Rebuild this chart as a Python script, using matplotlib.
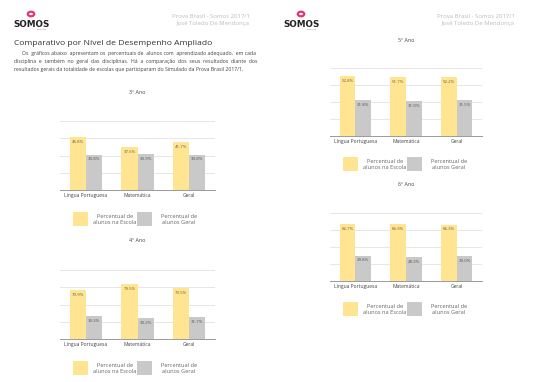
import matplotlib
matplotlib.use("Agg")
import matplotlib.pyplot as plt
from matplotlib.patches import Rectangle, Circle
import numpy as np

plt.rcParams['font.family'] = ['Open Sans', 'DejaVu Sans']

# ---------------- data ----------------
categories = ["Língua Portuguesa", "Matemática", "Geral"]
anos = ["3º Ano", "4º Ano", "5º Ano", "6º Ano"]
escola_3 = [45.8, 37.5, 41.7]
geral_3 = [30.8, 30.9, 30.8]
escola_4 = [70.9, 79.5, 73.5]
geral_4 = [33.3, 30.2, 31.7]
escola_5 = [52.8, 51.7, 52.2]
geral_5 = [31.8, 31.0, 31.5]
escola_6 = [66.7, 66.9, 66.3]
geral_6 = [29.8, 28.3, 29.0]
legend_labels = ["Percentual de\nalunos na Escola", "Percentual de\nalunos Geral"]

title = "Comparativo por Nível de Desempenho Ampliado"
paragraph = [
    "Os gráficos abaixo apresentam os percentuais de alunos com aprendizado adequado, em cada",
    "disciplina e também no geral das disciplinas. Há a comparação dos seus resultados diante dos",
    "resultados gerais da totalidade de escolas que participaram do Simulado da Prova Brasil 2017/1.",
]
header1 = "Prova Brasil - Somos 2017/1"
header2 = "José Toledo De Mendonça"

# ---------------- style ----------------
W, H = 540, 382
YELLOW = "#FFE592"
GRAY = "#C9C9C9"
PINK = "#E8336F"
TXT = "#444444"

fig = plt.figure(figsize=(W / 100, H / 100), dpi=100)
fig.patch.set_facecolor("white")


def fx(x):
    return x / W


def fy(y):
    return 1 - y / H


def text(x, y, s, **kw):
    kw.setdefault("va", "center")
    return fig.text(fx(x), fy(y), s, **kw)


def widen(s, every):
    # approximate justification by doubling some of the word gaps
    words = s.split(" ")
    out = words[0]
    for i, w in enumerate(words[1:]):
        out += ("  " if i % every == 0 else " ") + w
    return out


def logo(x0):
    fig.patches.append(Circle((fx(x0 + 16), fy(14)), 3.2 / W, transform=fig.transFigure,
                              facecolor="none", edgecolor=PINK, lw=1.6))
    text(x0 + 17, 24.5, "SOMOS", fontsize=6.3, fontweight="bold", color="#222222",
         ha="center", family="DejaVu Sans")
    text(x0 + 27, 29.5, "educação", fontsize=1.6, color="#777777", ha="center")


def header(xr):
    text(xr, 16, header1, fontsize=4.3, color="#BBBBBB", ha="right")
    text(xr - 1, 24, header2, fontsize=4.3, color="#BBBBBB", ha="right")


def chart(left, right, top, bottom, escola, geral, ymax, step, ano, ano_y, leg_y):
    ax = fig.add_axes([fx(left), fy(bottom), fx(right - left), (bottom - top) / H])
    x = np.arange(len(categories))
    w = 0.31
    b1 = ax.bar(x - w / 2, escola, w, color=YELLOW, zorder=3)
    b2 = ax.bar(x + w / 2, geral, w, color=GRAY, zorder=3)
    for bars, vals, c in ((b1, escola, "#6b5f3a"), (b2, geral, "#555555")):
        for r, v in zip(bars, vals):
            ax.annotate(f"{v:.1f}%", (r.get_x() + r.get_width() / 2, v),
                        xytext=(0, -3.4), textcoords="offset points",
                        ha="center", va="center", fontsize=3.2, color=c, zorder=4)
    ax.set_xlim(-0.5, 2.5)
    ax.set_ylim(0, ymax)
    ax.set_yticks(np.arange(step, ymax + 0.1, step))
    ax.yaxis.grid(True, color="#E2E2E2", lw=0.6, zorder=0)
    ax.set_axisbelow(True)
    ax.tick_params(axis="y", left=False, labelleft=False)
    ax.set_xticks(x)
    ax.set_xticklabels(categories, fontsize=3.6, color=TXT)
    ax.tick_params(axis="x", length=0, pad=2.2)
    for s in ("top", "left", "right"):
        ax.spines[s].set_visible(False)
    ax.spines["bottom"].set_color("#9a9a9a")
    ax.spines["bottom"].set_linewidth(0.7)
    ax.patch.set_alpha(0)

    cx = (left + right) / 2
    text(cx, ano_y, ano, fontsize=3.9, color=TXT, ha="center")

    # legend
    sq = 14
    lx1 = left + 13
    lx2 = left + 77
    for lx, col, lab in ((lx1, YELLOW, legend_labels[0]), (lx2, GRAY, legend_labels[1])):
        fig.patches.append(Rectangle((fx(lx), fy(leg_y + sq)), (sq + 1) / W, sq / H,
                                     transform=fig.transFigure, facecolor=col, edgecolor="none"))
        text(lx + 42, leg_y + sq / 2 + 0.5, lab, fontsize=4.1, color="#666666",
             ha="center", linespacing=1.35)
    return ax


# ---------------- left page ----------------
logo(15)
header(250)
text(14, 43.5, title, fontsize=6.1, color="#333333", ha="left")
text(22, 54, widen(paragraph[0], 2), fontsize=3.72, color="#444444", ha="left")
text(14, 62, widen(paragraph[1], 1), fontsize=3.72, color="#444444", ha="left")
text(14, 70, paragraph[2], fontsize=3.68, color="#444444", ha="left")

chart(60, 215, 121, 190, escola_3, geral_3, 60, 15, anos[0], 92, 212)
chart(60, 215, 270, 339, escola_4, geral_4, 100, 25, anos[1], 241, 361)

# ---------------- right page ----------------
logo(285)
header(515)
chart(330, 482, 68, 136, escola_5, geral_5, 60, 15, anos[2], 40, 157)
chart(330, 482, 213, 281, escola_6, geral_6, 80, 20, anos[3], 185, 302)

fig.savefig("out.png", dpi=100, facecolor="white")
